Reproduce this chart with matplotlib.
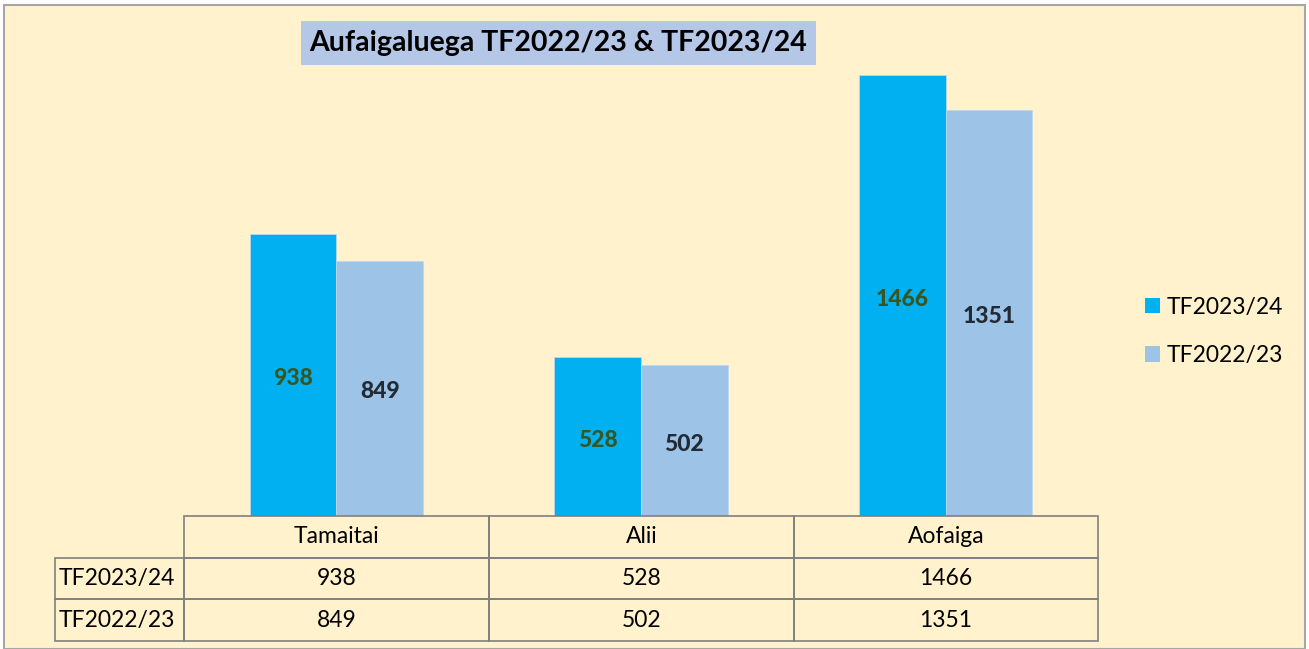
import matplotlib
matplotlib.use("Agg")
import matplotlib.pyplot as plt
from matplotlib.patches import Rectangle, Patch

categories = ["Tamaitai", "Alii", "Aofaiga"]
series_names = ["TF2023/24", "TF2022/23"]
values_2324 = [938, 528, 1466]
values_2223 = [849, 502, 1351]

title = "Aufaigaluega TF2022/23 & TF2023/24"

bg = "#FFF2CC"
c1 = "#00B0F0"
c2 = "#9DC3E6"
lab1 = "#375623"
lab2 = "#222A35"
font = ["Lato", "DejaVu Sans"]
plt.rcParams["font.family"] = font

W, H = 1309, 649
fig = plt.figure(figsize=(W / 100, H / 100), dpi=100)
fig.patch.set_facecolor("white")

def px(x0, y0, x1, y1):
    return [x0 / W, 1 - y1 / H, (x1 - x0) / W, (y1 - y0) / H]

# chart frame
frame = Rectangle((4 / W, 0), (1301) / W, 1 - 5 / H, transform=fig.transFigure,
                  facecolor=bg, edgecolor="#A6A6A6", linewidth=1.5, zorder=-5)
fig.patches.append(frame)

# title box
fig.text((300 + 817) / 2 / W, 1 - 43 / H, title, ha="center", va="center",
         fontsize=20.5, fontweight="bold", color="black",
         bbox=dict(boxstyle="square,pad=0.3", facecolor="#B4C7E7", edgecolor="none"))

# bar axes
ax = fig.add_axes(px(184, 35, 1098, 516))
ax.set_zorder(2)
ax.set_facecolor("none")
ax.set_xlim(-0.5, 2.5)
ax.set_ylim(0, 1600)
bw = 0.285
xs = list(range(len(categories)))
b1 = ax.bar([x - bw / 2 for x in xs], values_2324, width=bw, color=c1,
            edgecolor="#BDD7EE", linewidth=0.6)
b2 = ax.bar([x + bw / 2 for x in xs], values_2223, width=bw, color=c2,
            edgecolor="#BDD7EE", linewidth=0.6)
for x, v in zip(xs, values_2324):
    ax.annotate(str(v), (x - bw / 2, v / 2), xytext=(0, -2.5), textcoords="offset points",
                ha="center", va="center", fontsize=16.5, fontweight="black", color=lab1)
for x, v in zip(xs, values_2223):
    ax.annotate(str(v), (x + bw / 2, v / 2), xytext=(0, -2.5), textcoords="offset points",
                ha="center", va="center", fontsize=16.5, fontweight="black", color=lab2)
ax.axis("off")

# data table
tax = fig.add_axes(px(55, 516, 1098, 641))
tax.set_zorder(3)
tax.axis("off")
cell_text = [[""] + categories,
             [series_names[0]] + [str(v) for v in values_2324],
             [series_names[1]] + [str(v) for v in values_2223]]
tbl = tax.table(cellText=cell_text, bbox=[0, 0, 1, 1],
                colWidths=[129, 305, 305, 304], cellLoc="center")
tbl.auto_set_font_size(False)
for (r, c), cell in tbl.get_celld().items():
    cell.set_facecolor("none")
    cell.set_edgecolor("#7F7F7F")
    cell.set_linewidth(1.2)
    cell.get_text().set_fontsize(16.5)
    cell.get_text().set_fontfamily(font)
    if c == 0:
        cell.get_text().set_ha("left")
        cell._loc = "left"
        cell.PAD = 0.03
    if r == 0 and c == 0:
        cell.set_edgecolor("none")

# legend
handles = [Patch(facecolor=c1, edgecolor="none"), Patch(facecolor=c2, edgecolor="none")]
leg = fig.legend(handles, series_names, loc="upper left",
                 bbox_to_anchor=(1124 / W, 1 - 276 / H), frameon=False,
                 fontsize=16.5, handlelength=0.65, handleheight=0.65,
                 handletextpad=0.3, labelspacing=1.2)
leg.set_zorder(4)

fig.savefig("out.png", dpi=100, facecolor=fig.get_facecolor())
